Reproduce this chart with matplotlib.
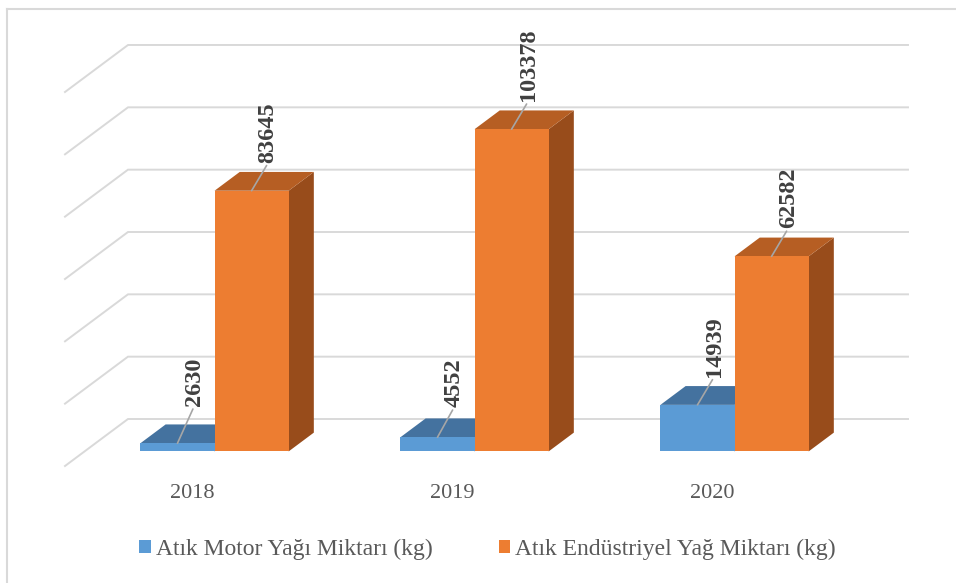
import numpy as np
import matplotlib.pyplot as plt
from matplotlib.patches import Polygon

years = ['2018', '2019', '2020']
motor = [2630, 4552, 14939]
endustriyel = [83645, 103378, 62582]
series_names = ['Atık Motor Yağı Miktarı (kg)', 'Atık Endüstriyel Yağ Miktarı (kg)']
grid_values = np.arange(0, 120001, 20000)

# oblique "3D" look: full depth of the floor in data units
depth_x = 63 / 260
depth_y = 47 / 3.1167e-3
bar_w = 0.285
d0, d1 = 0.31, 0.71

front_cols = ['#5b9bd5', '#ed7d31']
top_cols = ['#44729f', '#b65e23']
side_cols = ['#3a6690', '#984c1b']
grid_col = '#d9d9d9'
serif = ['Liberation Serif', 'DejaVu Serif']

W, H = 956, 583
fig = plt.figure(figsize=(W / 100, H / 100), dpi=100)
ax = fig.add_axes([0, 0, 1, 1])
sx = 260.0          # pixels per category
sy = 3.1167e-3      # pixels per kg
ax.set_xlim(-0.5 - 65 / sx, -0.5 + (W - 65) / sx)
ax.set_ylim(-(H - 466) / sy, 466 / sy)
ax.axis('off')


def proj(x, d, v):
    return x + d * depth_x, v + d * depth_y


# walls: gridlines on back wall and left side wall
n = len(years)
for g in grid_values:
    xa, ya = proj(-0.5, 0, g)
    xb, yb = proj(-0.5, 1, g)
    xc, yc = proj(n - 0.5, 1, g)
    ax.plot([xa, xb, xc], [ya, yb, yc], color=grid_col, lw=1.4,
            solid_joinstyle='miter', zorder=1)


def bar3d(x0, x1, v, k, z):
    fl = [proj(x0, d0, 0), proj(x1, d0, 0), proj(x1, d0, v), proj(x0, d0, v)]
    tp = [proj(x0, d0, v), proj(x1, d0, v), proj(x1, d1, v), proj(x0, d1, v)]
    sd = [proj(x1, d0, 0), proj(x1, d1, 0), proj(x1, d1, v), proj(x1, d0, v)]
    ax.add_patch(Polygon(sd, closed=True, fc=side_cols[k], ec='none', zorder=z))
    ax.add_patch(Polygon(tp, closed=True, fc=top_cols[k], ec='none', zorder=z))
    ax.add_patch(Polygon(fl, closed=True, fc=front_cols[k], ec='none', zorder=z + 0.1))


label_lift = [[37, 28], [30, 28], [28, 28]]
for i in range(n):
    vals = [motor[i], endustriyel[i]]
    for k in range(2):
        x0 = i - bar_w + k * bar_w
        x1 = x0 + bar_w
        bar3d(x0, x1, vals[k], k, 2 + k)
        xm, ym = proj((x0 + x1) / 2, d0, vals[k])
        lift = label_lift[i][k]
        ax.annotate(str(vals[k]), xy=(xm, ym), xytext=(12, lift * 0.72),
                    textcoords='offset points', rotation=90,
                    ha='center', va='bottom', fontsize=17.5, fontweight='bold',
                    family=serif, color='#404040', zorder=6,
                    arrowprops=dict(arrowstyle='-', color='#a6a6a6', lw=1.2,
                                    shrinkA=0, shrinkB=0, relpos=(0.5, 0)))
    ax.text(i - 0.01, -8700, years[i], ha='center', va='center', fontsize=16,
            family=serif, color='#595959')

# legend
handles = [plt.Rectangle((0, 0), 1, 1, fc=c, ec='none') for c in front_cols]
fig.legend(handles, series_names, loc='center', bbox_to_anchor=(0.51, 0.058),
           ncol=2, frameon=False, prop={'family': serif, 'size': 17},
           labelcolor='#595959', handlelength=0.5, handleheight=0.5,
           handletextpad=0.2, columnspacing=2.8)

# chart border (top and left edges visible)
fig.add_artist(plt.Line2D([7 / W, 1], [1 - 9 / H, 1 - 9 / H], color=grid_col, lw=1.5))
fig.add_artist(plt.Line2D([7 / W, 7 / W], [0, 1 - 9 / H], color=grid_col, lw=1.5))

fig.savefig('out.png', dpi=100, facecolor='white')
